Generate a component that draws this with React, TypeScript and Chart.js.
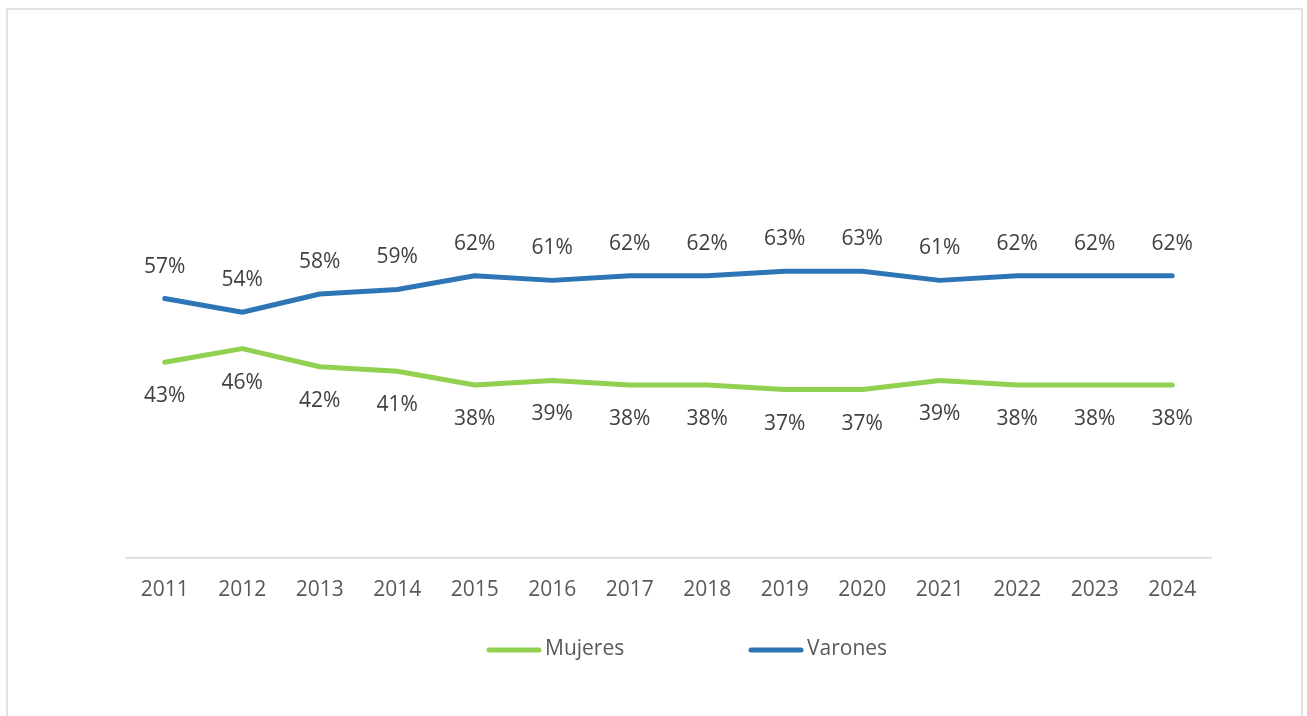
import React, { useEffect, useRef } from "react";
import { Chart, registerables } from "chart.js";

Chart.register(...registerables);

const years = ["2011", "2012", "2013", "2014", "2015", "2016", "2017", "2018", "2019", "2020", "2021", "2022", "2023", "2024"];
const mujeres = [43, 46, 42, 41, 38, 39, 38, 38, 37, 37, 39, 38, 38, 38];
const varones = [57, 54, 58, 59, 62, 61, 62, 62, 63, 63, 61, 62, 62, 62];

const GREEN = "#92D050";
const BLUE = "#2E75B6";
const FONT = "'Open Sans', 'Noto Sans', sans-serif";

const labelsPlugin = {
  id: "pctLabels",
  afterDatasetsDraw(chart: any) {
    const ctx = chart.ctx;
    ctx.save();
    ctx.font = `21px ${FONT}`;
    ctx.fillStyle = "#404040";
    ctx.textAlign = "center";
    ctx.textBaseline = "middle";
    chart.data.datasets.forEach((ds: any, i: number) => {
      const meta = chart.getDatasetMeta(i);
      const above = ds.label === "Varones";
      meta.data.forEach((pt: any, j: number) => {
        const y = above ? pt.y - 32 : pt.y + 34;
        ctx.fillText(ds.data[j] + "%", pt.x, y);
      });
    });
    ctx.restore();
  },
};

const legendPlugin = {
  id: "customLegend",
  afterDraw(chart: any) {
    const ctx = chart.ctx;
    ctx.save();
    ctx.font = `21px ${FONT}`;
    ctx.fillStyle = "#595959";
    ctx.textBaseline = "middle";
    ctx.textAlign = "left";
    ctx.lineWidth = 5;
    ctx.lineCap = "round";
    const y = 650;
    const items = [
      { label: "Mujeres", color: GREEN, x: 489 },
      { label: "Varones", color: BLUE, x: 751 },
    ];
    items.forEach((it) => {
      ctx.strokeStyle = it.color;
      ctx.beginPath();
      ctx.moveTo(it.x, y);
      ctx.lineTo(it.x + 50, y);
      ctx.stroke();
      ctx.fillText(it.label, it.x + 56, y - 1);
    });
    ctx.restore();
  },
};

export default function App() {
  const ref = useRef<HTMLCanvasElement>(null);
  useEffect(() => {
    document.body.style.margin = "0";
    const chart = new Chart(ref.current!, {
      type: "line",
      data: {
        labels: years,
        datasets: [
          {
            label: "Mujeres",
            data: mujeres,
            borderColor: GREEN,
            backgroundColor: GREEN,
            borderWidth: 5,
            pointRadius: 0,
            tension: 0,
            borderCapStyle: "round",
            borderJoinStyle: "round",
          },
          {
            label: "Varones",
            data: varones,
            borderColor: BLUE,
            backgroundColor: BLUE,
            borderWidth: 5,
            pointRadius: 0,
            tension: 0,
            borderCapStyle: "round",
            borderJoinStyle: "round",
          },
        ],
      },
      options: {
        animation: false,
        responsive: false,
        maintainAspectRatio: false,
        layout: { padding: { left: 126, right: 96, top: 103, bottom: 93 } },
        plugins: { legend: { display: false }, tooltip: { enabled: false } },
        scales: {
          x: {
            offset: true,
            grid: { display: false, drawTicks: false },
            border: { display: true, color: "#d9d9d9", width: 1.5 },
            ticks: { color: "#595959", font: { family: FONT, size: 21 }, padding: 20, maxRotation: 0 },
          },
          y: {
            display: false,
            min: 0,
            max: 100,
          },
        },
      },
      plugins: [labelsPlugin, legendPlugin],
    });
    return () => chart.destroy();
  }, []);
  return (
    <div style={{ position: "relative", width: 1307, height: 716, background: "#fff", overflow: "hidden" }}>
      <div
        style={{
          position: "absolute",
          left: 6,
          top: 8,
          width: 1297,
          height: 720,
          border: "2px solid #e2e2e2",
          boxSizing: "border-box",
        }}
      />
      <canvas ref={ref} width={1307} height={716} style={{ position: "absolute", left: 0, top: 0 }} />
    </div>
  );
}
